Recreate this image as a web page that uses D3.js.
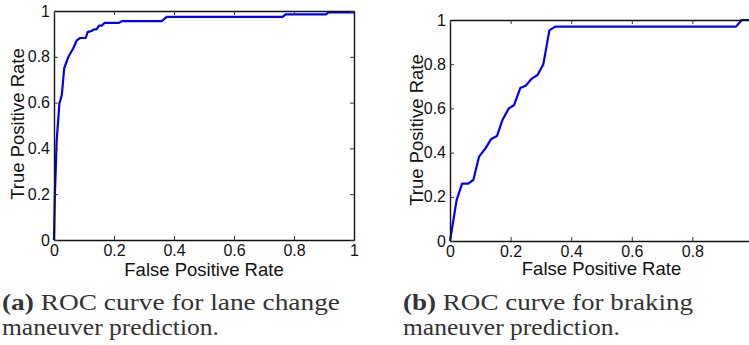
<!DOCTYPE html>
<html lang="en">
	<head>
		<meta charset="utf-8">
		<title>D3: ROC curves</title>
		<script type="text/javascript" src="https://d3js.org/d3.v7.min.js"></script>
		<style type="text/css">
			body { margin: 0; background: #fff; }
			svg { display: block; overflow: hidden; }
			.axis text {
				font-family: "Liberation Sans", Helvetica, Arial, sans-serif;
				font-size: 16px;
				fill: #111;
			}
			.axis-title {
				font-family: "Liberation Sans", Helvetica, Arial, sans-serif;
				font-size: 18.5px;
				fill: #111;
			}
			.caption {
				font-family: "Liberation Serif", "Times New Roman", serif;
				font-size: 22.5px;
				fill: #333;
			}
		</style>
	</head>
	<body>
		<div id="chart"></div>
		<script type="text/javascript">
			// tick values and labels shared by both panels
			const tickValues = [0, 0.2, 0.4, 0.6, 0.8, 1];
			const tickLabels = ["0", "0.2", "0.4", "0.6", "0.8", "1"];

			// (a) lane change ROC
			const laneFpr = [0, 0.003, 0.009, 0.018, 0.026, 0.034, 0.048, 0.064, 0.076, 0.087, 0.106, 0.112, 0.126, 0.134, 0.142, 0.15, 0.159, 0.168, 0.217, 0.226, 0.359, 0.376, 0.762, 0.772, 0.907, 0.914, 1];
			const laneTpr = [0, 0.2, 0.436, 0.596, 0.633, 0.75, 0.8, 0.836, 0.872, 0.882, 0.882, 0.908, 0.913, 0.92, 0.92, 0.936, 0.936, 0.948, 0.948, 0.956, 0.956, 0.974, 0.974, 0.985, 0.985, 0.994, 0.994];

			// (b) braking ROC
			const brakeFpr = [0, 0.022, 0.04, 0.06, 0.077, 0.096, 0.117, 0.135, 0.155, 0.174, 0.194, 0.211, 0.232, 0.251, 0.27, 0.289, 0.308, 0.328, 0.347, 0.944, 0.963, 1];
			const brakeTpr = [0, 0.186, 0.26, 0.26, 0.276, 0.382, 0.419, 0.46, 0.475, 0.55, 0.6, 0.614, 0.692, 0.704, 0.735, 0.751, 0.8, 0.953, 0.97, 0.97, 1, 1];

			const W = 749, H = 345;

			const svg = d3.select("#chart")
				.append("svg")
				.attr("width", W)
				.attr("height", H);

			function panel(opt) {
				const width = opt.x1 - opt.x0;
				const height = opt.y1 - opt.y0;
				const xScale = d3.scaleLinear().domain([0, 1]).range([0, width]);
				const yScale = d3.scaleLinear().domain([0, 1]).range([height, 0]);
				const fmt = function(d) { return tickLabels[tickValues.indexOf(d)]; };
				// the figure is cropped on the right, drop labels that fall past the edge
				const xFmt = function(d) { return opt.x0 + xScale(d) + 4 > W ? "" : fmt(d); };

				const g = svg.append("g")
					.attr("transform", "translate(" + opt.x0 + "," + opt.y0 + ")");

				// curve first so the axes sit on top
				const pts = opt.fpr.map(function(f, i) { return [f, opt.tpr[i]]; });
				g.append("path")
					.datum(pts)
					.attr("fill", "none")
					.attr("stroke", "#0000ff")
					.attr("stroke-width", 2.2)
					.attr("stroke-linejoin", "round")
					.attr("d", d3.line()
						.x(function(d) { return xScale(d[0]); })
						.y(function(d) { return yScale(d[1]); }));

				// MATLAB style: ticks inside on all four sides
				g.append("g")
					.attr("class", "axis")
					.attr("transform", "translate(0," + height + ")")
					.call(d3.axisBottom(xScale).tickValues(tickValues).tickFormat(xFmt)
						.tickSizeInner(-4).tickSizeOuter(0).tickPadding(4.5));
				g.append("g")
					.attr("class", "axis")
					.call(d3.axisLeft(yScale).tickValues(tickValues).tickFormat(fmt)
						.tickSizeInner(-4).tickSizeOuter(0).tickPadding(4));
				g.append("g")
					.attr("class", "axis")
					.call(d3.axisTop(xScale).tickValues(tickValues).tickFormat("")
						.tickSizeInner(-4).tickSizeOuter(0));
				g.append("g")
					.attr("class", "axis")
					.attr("transform", "translate(" + width + ",0)")
					.call(d3.axisRight(yScale).tickValues(tickValues).tickFormat("")
						.tickSizeInner(-4).tickSizeOuter(0));

				g.selectAll(".axis .domain")
					.attr("stroke", "#111")
					.attr("stroke-width", 1.4);
				g.selectAll(".axis .tick line")
					.attr("stroke", "#333")
					.attr("stroke-width", 1);

				// axis titles
				g.append("text")
					.attr("class", "axis-title")
					.attr("text-anchor", "middle")
					.attr("x", width / 2)
					.attr("y", opt.xTitleY - opt.y0)
					.text("False Positive Rate");
				g.append("text")
					.attr("class", "axis-title")
					.attr("text-anchor", "middle")
					.attr("transform", "translate(" + (opt.yTitleX - opt.x0) + "," + (opt.yTitleC - opt.y0) + ") rotate(-90)")
					.text("True Positive Rate");

				// caption
				const c1 = svg.append("text")
					.attr("class", "caption")
					.attr("x", opt.capX)
					.attr("y", 310)
					.attr("textLength", opt.cap1Len)
					.attr("lengthAdjust", "spacingAndGlyphs");
				c1.append("tspan").attr("font-weight", "bold").text(opt.tag);
				c1.append("tspan").text(" " + opt.cap1);
				svg.append("text")
					.attr("class", "caption")
					.attr("x", opt.capX)
					.attr("y", 335)
					.attr("textLength", opt.cap2Len)
					.attr("lengthAdjust", "spacingAndGlyphs")
					.text("maneuver prediction.");
			}

			panel({
				x0: 54, x1: 354, y0: 11, y1: 240,
				fpr: laneFpr, tpr: laneTpr,
				xTitleY: 275.5, yTitleX: 24, yTitleC: 124,
				capX: 2, tag: "(a)", cap1: "ROC curve for lane change",
				cap1Len: 338, cap2Len: 217
			});

			panel({
				x0: 450, x1: 753, y0: 20, y1: 241,
				fpr: brakeFpr, tpr: brakeTpr,
				xTitleY: 275, yTitleX: 423, yTitleC: 130,
				capX: 403, tag: "(b)", cap1: "ROC curve for braking",
				cap1Len: 290, cap2Len: 217
			});
		</script>
	</body>
</html>
